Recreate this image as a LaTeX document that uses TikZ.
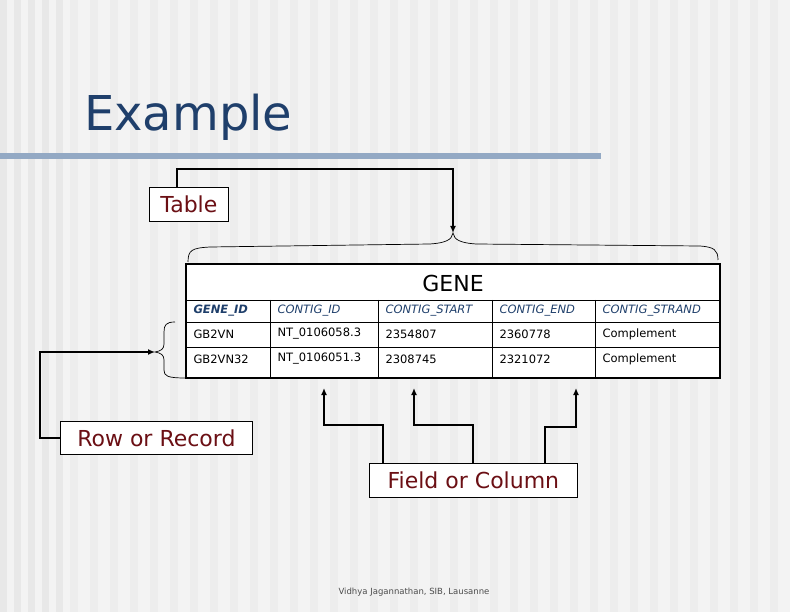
\documentclass[tikz,border=0pt]{standalone}
\usepackage{fontspec}
\setmainfont{DejaVu Sans}
\usetikzlibrary{arrows.meta}
\definecolor{bg}{HTML}{F3F3F3}
\definecolor{stripe}{HTML}{E8E8E8}
\definecolor{titleblue}{HTML}{1F3F6B}
\definecolor{rule}{HTML}{93A9C4}
\definecolor{lab}{HTML}{6B0F14}
\definecolor{hdr}{HTML}{1F3F6B}
\begin{document}
\begin{tikzpicture}[x=1pt,y=-1pt,
  lbl/.style={draw=black,line width=0.8pt,fill=white,text=lab,font=\fontsize{22}{22}\selectfont,inner sep=0pt,anchor=north west},
  cell/.style={anchor=west,font=\fontsize{11.5}{11.5}\selectfont},
  hcell/.style={cell,text=hdr,font=\fontsize{11.5}{11.5}\selectfont\itshape},
  conn/.style={line width=1.6pt,-{Latex[length=7pt,width=6pt]}}]
\useasboundingbox (0,0) rectangle (790,612);
\fill[bg] (0,0) rectangle (790,612);
\foreach \x in {0,14,28,42,56}{\fill[stripe] (\x,0) rectangle (\x+7,612);}
\foreach \x in {70,90,...,780}{\fill[stripe!50!bg] (\x,0) rectangle (\x+8,612);}
\node[anchor=base west,text=titleblue,font=\fontsize{48}{48}\selectfont,inner sep=0] (title) at (84,131) {Example};
\fill[rule] (0,153) rectangle (601,159);
% table
\fill[white] (186,264) rectangle (720,378);
\draw[line width=0.6pt] (186,300) -- (720,300) (186,322) -- (720,322) (186,347) -- (720,347);
\foreach \x in {270,378,492,595}{\draw[line width=0.6pt] (\x,300) -- (\x,378);}
\draw[line width=2.5pt] (186,264) rectangle (720,378);
\node[font=\fontsize{22}{22}\selectfont] (gene) at (453,283) {GENE};
\node[hcell,font=\fontsize{11.5}{11.5}\selectfont\bfseries\itshape] (h1) at (190,311) {GENE\_ID};
\node[hcell] (h2) at (274,311) {CONTIG\_ID};
\node[hcell] (h3) at (382,311) {CONTIG\_START};
\node[hcell] (h4) at (496,311) {CONTIG\_END};
\node[hcell] (h5) at (599,311) {CONTIG\_STRAND};
\node[cell] (a1) at (190,334) {GB2VN};
\node[cell] (a2) at (274,334) {NT\_0106058.3};
\node[cell] (a3) at (382,334) {2354807};
\node[cell] (a4) at (496,334) {2360778};
\node[cell] (a5) at (599,334) {Complement};
\node[cell] (b1) at (190,359) {GB2VN32};
\node[cell] (b2) at (274,359) {NT\_0106051.3};
\node[cell] (b3) at (382,359) {2308745};
\node[cell] (b4) at (496,359) {2321072};
\node[cell] (b5) at (599,359) {Complement};
% braces
\coordinate (tb) at (453,233);
\draw[line width=0.7pt] (188,262) .. controls (188,250) and (192,248) .. (210,247) -- (430,244) .. controls (445,243) and (452,240) .. (tb)
  .. controls (454,240) and (461,243) .. (476,244) -- (700,246) .. controls (714,247) and (718,250) .. (718,260);
\coordinate (lb) at (155,352);
\draw[line width=0.7pt] (175,322) .. controls (166,322) and (164,325) .. (164,332) -- (164,344) .. controls (164,349) and (161,351) .. (lb)
  .. controls (161,353) and (164,355) .. (164,360) -- (164,370) .. controls (164,376) and (167,378) .. (186,378);
% labels
\node[lbl,minimum width=79pt,minimum height=34pt] (table) at (149,187) {Table};
\node[lbl,minimum width=192pt,minimum height=33pt] (row) at (60,421) {Row or Record\hspace{8pt}};
\node[lbl,minimum width=208pt,minimum height=34pt] (field) at (369,463) {Field or Column};
\draw[conn] (177,187) |- (453,169) -- (tb);
\draw[conn] (row.west) -| (40,352) -- (lb);
\coordinate (c1) at (324,388);
\coordinate (c2) at (414,388);
\coordinate (c3) at (576,388);
\draw[conn] (383,463) |- (324,425) -- (c1);
\draw[conn] (473,463) |- (414,425) -- (c2);
\draw[conn] (545,463) |- (576,427) -- (c3);
\node[font=\fontsize{8.5}{8.5}\selectfont,text=black!70] (foot) at (414,592) {Vidhya Jagannathan, SIB, Lausanne};
\end{tikzpicture}
\end{document}
